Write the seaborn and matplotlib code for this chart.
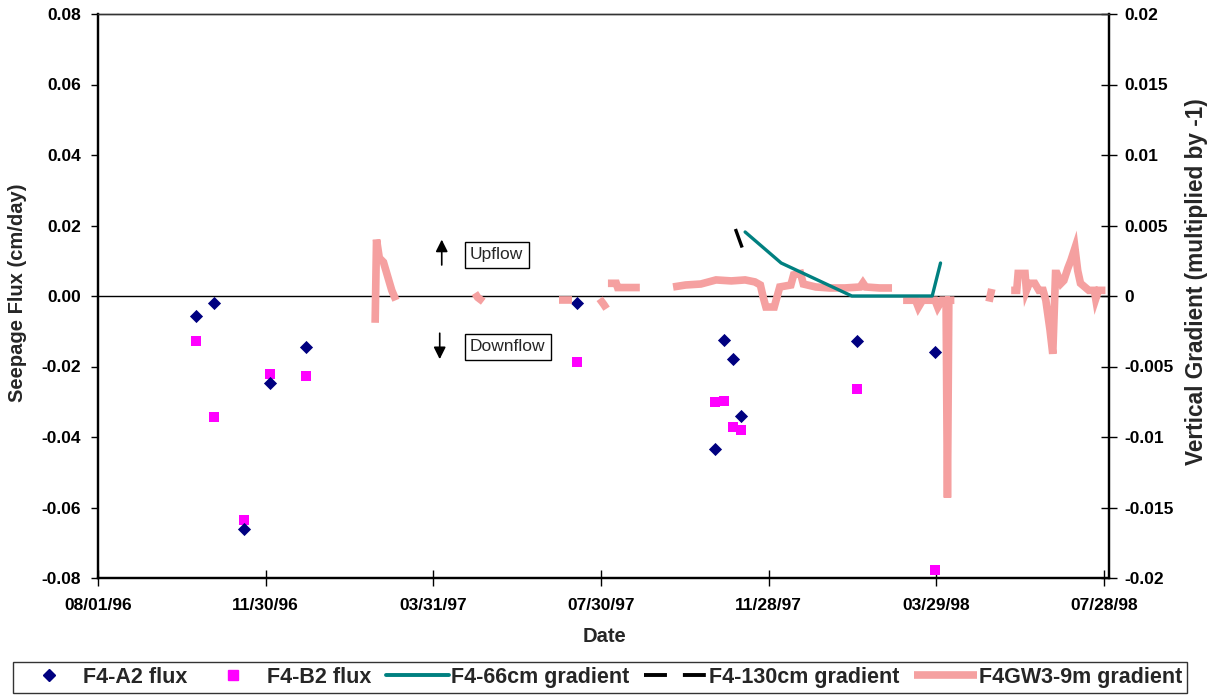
import numpy as np
import pandas as pd
import matplotlib
matplotlib.use("Agg")
import matplotlib.pyplot as plt
import matplotlib.dates as mdates
from matplotlib.lines import Line2D
import seaborn as sns

# ---------------- data ----------------
flux_dates = ["1996-10-11", "1996-10-24", "1996-11-14", "1996-12-03", "1996-12-29",
              "1997-07-13", "1997-10-20", "1997-10-27", "1997-11-02", "1997-11-08",
              "1998-01-31", "1998-03-28"]
a2_flux = [-0.0057, -0.0021, -0.0660, -0.0247, -0.0145,
           -0.0021, -0.0435, -0.0125, -0.0179, -0.0341,
           -0.0128, -0.0160]
b2_flux = [-0.0128, -0.0343, -0.0635, -0.0221, -0.0227,
           -0.0187, -0.0301, -0.0298, -0.0372, -0.0380,
           -0.0264, -0.0777]

g66_dates = ["1997-11-11", "1997-12-07", "1998-01-27", "1998-03-26", "1998-04-01"]
g66_vals = [0.00454, 0.00234, 0.0, 0.0, 0.00234]

g130_dates = ["1997-11-04", "1997-11-10"]
g130_vals = [0.00475, 0.00312]

gw3_dates = [
    # segment 1
    "1997-02-17", "1997-02-18", "1997-02-20", "1997-02-23", "1997-02-26", "1997-03-01", "1997-03-04",
    # segment 2
    "1997-04-30", "1997-05-02", "1997-05-06",
    # segment 3
    "1997-06-30", "1997-07-09",
    # segment 4
    "1997-07-29", "1997-08-01", "1997-08-03",
    # segment 5
    "1997-08-04", "1997-08-10", "1997-08-11", "1997-08-27",
    # segment 6
    "1997-09-20", "1997-09-29", "1997-10-10", "1997-10-21", "1997-11-01", "1997-11-11",
    "1997-11-18", "1997-11-22", "1997-11-24", "1997-11-26", "1997-12-02", "1997-12-04",
    "1997-12-06", "1997-12-14", "1997-12-16", "1997-12-21", "1997-12-23", "1998-01-01",
    "1998-01-11", "1998-01-22", "1998-02-02", "1998-02-04", "1998-02-06", "1998-02-16",
    "1998-02-25",
    # segment 7
    "1998-03-05", "1998-03-14", "1998-03-16", "1998-03-19", "1998-03-28", "1998-03-30",
    "1998-04-02", "1998-04-05", "1998-04-06", "1998-04-07", "1998-04-11",
    # segment 8
    "1998-05-06", "1998-05-08",
    # segment 9
    "1998-05-22", "1998-05-26", "1998-05-27", "1998-06-01", "1998-06-02", "1998-06-04",
    "1998-06-08", "1998-06-11", "1998-06-14", "1998-06-16", "1998-06-19", "1998-06-21",
    "1998-06-23", "1998-06-24", "1998-06-27", "1998-06-29", "1998-07-02", "1998-07-04",
    "1998-07-07", "1998-07-09", "1998-07-11", "1998-07-17", "1998-07-21", "1998-07-22",
    "1998-07-24", "1998-07-29",
]
gw3_vals = [
    -0.0019, 0.0040, 0.0027, 0.0024, 0.0014, 0.0004, -0.0003,
    0.0002, -0.0001, -0.0004,
    -0.0003, -0.0003,
    -0.0002, -0.0006, -0.0009,
    0.0009, 0.0009, 0.0006, 0.0006,
    0.00064, 0.00078, 0.00085, 0.00114, 0.00107, 0.00114,
    0.0010, 0.00078, -0.00007, -0.00078, -0.00078, -0.00007,
    0.00064, 0.00078, 0.0015, 0.0016, 0.00085, 0.00064,
    0.00057, 0.00057, 0.00064, 0.00093, 0.00064, 0.00057,
    0.00057,
    -0.0003, -0.0003, -0.0008, -0.0003, -0.0003, -0.0008,
    -0.0003, -0.0003, -0.0143, -0.0003, -0.0003,
    -0.0004, 0.0005,
    0.0004, 0.0004, 0.0016, 0.0016, 0.0004, 0.0009,
    0.0009, 0.0004, 0.0004, -0.0003, -0.0024, -0.0041,
    0.0016, 0.0016, 0.0009, 0.0011, 0.0020, 0.0025,
    0.0034, 0.0018, 0.0009, 0.0004, 0.0004, -0.0002,
    0.0004, 0.0004,
]
gw3_seg = ([1] * 7 + [2] * 3 + [3] * 2 + [4] * 3 + [5] * 4 + [6] * 25 +
           [7] * 11 + [8] * 2 + [9] * 26)

x_tick_dates = ["1996-08-01", "1996-11-30", "1997-03-31", "1997-07-30",
                "1997-11-28", "1998-03-29", "1998-07-28"]
left_ticks = [0.08, 0.06, 0.04, 0.02, 0.0, -0.02, -0.04, -0.06, -0.08]
right_ticks = [0.02, 0.015, 0.01, 0.005, 0.0, -0.005, -0.01, -0.015, -0.02]
right_tick_labels = ["0.02", "0.015", "0.01", "0.005", "0", "-0.005", "-0.01", "-0.015", "-0.02"]

series_labels = ["F4-A2 flux", "F4-B2 flux", "F4-66cm gradient", "F4-130cm gradient", "F4GW3-9m gradient"]

# ---------------- style ----------------
sns.set_style("white")
plt.rcParams["font.family"] = ["Liberation Sans", "DejaVu Sans"]
plt.rcParams["font.weight"] = "bold"

C_A2 = "#000080"
C_B2 = "#ff00ff"
C_66 = "#008080"
C_130 = "#000000"
C_GW = "#f5a0a0"
GW_LW = 5.5
DASH_130 = (0, (5.9, 4.1))

fig = plt.figure(figsize=(12.13, 6.98), dpi=100)
ax = fig.add_axes([98 / 1213, 1 - 578 / 698, (1109 - 98) / 1213, (578 - 14) / 698])
ax2 = ax.twinx()

df_flux = pd.DataFrame({"date": pd.to_datetime(flux_dates), "a2": a2_flux, "b2": b2_flux})
df_66 = pd.DataFrame({"date": pd.to_datetime(g66_dates), "val": g66_vals})
df_130 = pd.DataFrame({"date": pd.to_datetime(g130_dates), "val": g130_vals})
df_gw = pd.DataFrame({"date": pd.to_datetime(gw3_dates), "val": gw3_vals, "seg": gw3_seg})

ax.axhline(0, color="black", lw=1.0, zorder=1)

sns.scatterplot(data=df_flux, x="date", y="b2", marker="s", color=C_B2, s=58,
                linewidth=0, ax=ax, legend=False, zorder=3)
sns.scatterplot(data=df_flux, x="date", y="a2", marker="D", color=C_A2, s=45,
                linewidth=0, ax=ax, legend=False, zorder=4)

sns.lineplot(data=df_gw, x="date", y="val", units="seg", estimator=None, color=C_GW,
             lw=GW_LW, ax=ax2, legend=False, solid_capstyle="butt", solid_joinstyle="miter", zorder=2)
sns.lineplot(data=df_66, x="date", y="val", color=C_66, lw=2.4, ax=ax2, legend=False, zorder=3)
sns.lineplot(data=df_130, x="date", y="val", color=C_130, lw=2.4, ax=ax2, legend=False,
             linestyle=DASH_130, zorder=3)

# axes limits & ticks
xt = pd.to_datetime(x_tick_dates)
ax.set_xlim(pd.Timestamp("1996-08-01"), pd.Timestamp("1998-07-31 14:00"))
ax.set_xticks(xt)
ax.set_xticklabels([d.strftime("%m/%d/%y") for d in xt])
ax.set_ylim(-0.08, 0.08)
ax.set_yticks(left_ticks)
ax.set_yticklabels([f"{v:.2f}" for v in left_ticks])
ax2.set_ylim(-0.02, 0.02)
ax2.set_yticks(right_ticks)
ax2.set_yticklabels(right_tick_labels)

ax.set_xlabel("")
ax.set_ylabel("")
ax2.set_xlabel("")
ax2.set_ylabel("")

ax.tick_params(axis="y", direction="out", length=5, width=1, pad=7, labelsize=12.5,
               colors="black", left=True)
ax.tick_params(axis="x", direction="inout", length=11, width=1, pad=9, labelsize=12.5,
               colors="black", bottom=True)
ax2.tick_params(axis="y", direction="inout", length=12, width=1, pad=5, labelsize=12.5,
                colors="black", right=True)

for a in (ax, ax2):
    for side in ("left", "bottom", "right"):
        a.spines[side].set_color("black")
        a.spines[side].set_linewidth(1.6)
    a.spines["top"].set_color("#333333")
    a.spines["top"].set_linewidth(1.0)

# axis titles
fig.text(18 / 1213, 1 - 293 / 698, "Seepage Flux (cm/day)", rotation=90, ha="center",
         va="center", fontsize=14.5, fontweight="bold")
fig.text(1196 / 1213, 1 - 282 / 698, "Vertical Gradient (multiplied by -1)", rotation=90,
         ha="center", va="center", fontsize=16.3, fontweight="bold")
fig.text(605 / 1213, 1 - 636 / 698, "Date", ha="center", va="center", fontsize=14.5,
         fontweight="bold")

# Upflow / Downflow annotations
box = dict(boxstyle="square,pad=0.3", fc="white", ec="black", lw=1)
ax.text(0.368, 0.5727, "Upflow", transform=ax.transAxes, ha="left", va="center",
        fontsize=12.5, fontweight="normal", bbox=box)
ax.text(0.368, 0.4096, "Downflow", transform=ax.transAxes, ha="left", va="center",
        fontsize=12.5, fontweight="normal", bbox=box)
arrow = dict(arrowstyle="-|>", color="black", lw=1.2, mutation_scale=18, shrinkA=0, shrinkB=0)
ax.annotate("", xy=(0.340, 0.600), xytext=(0.340, 0.555), xycoords="axes fraction",
            textcoords="axes fraction", arrowprops=arrow)
ax.annotate("", xy=(0.338, 0.388), xytext=(0.338, 0.434), xycoords="axes fraction",
            textcoords="axes fraction", arrowprops=arrow)

# legend
handles = [
    Line2D([], [], marker="D", color=C_A2, ls="none", ms=6),
    Line2D([], [], marker="s", color=C_B2, ls="none", ms=7),
    Line2D([], [], color=C_66, lw=2.8),
    Line2D([], [], color=C_130, lw=2.8, linestyle=DASH_130, dash_capstyle="butt"),
    Line2D([], [], color=C_GW, lw=GW_LW, solid_capstyle="butt"),
]
leg = fig.legend(handles, series_labels, loc="center", bbox_to_anchor=(600 / 1213, 1 - 677.5 / 698),
                 ncol=5, frameon=True, fancybox=False, prop={"size": 15.5, "weight": "bold"},
                 handlelength=2.9, columnspacing=0.7, handletextpad=0.1, borderpad=0.25,
                 borderaxespad=0)
leg.get_frame().set_edgecolor("black")
leg.get_frame().set_linewidth(1.0)

fig.savefig("out.png", dpi=100)
